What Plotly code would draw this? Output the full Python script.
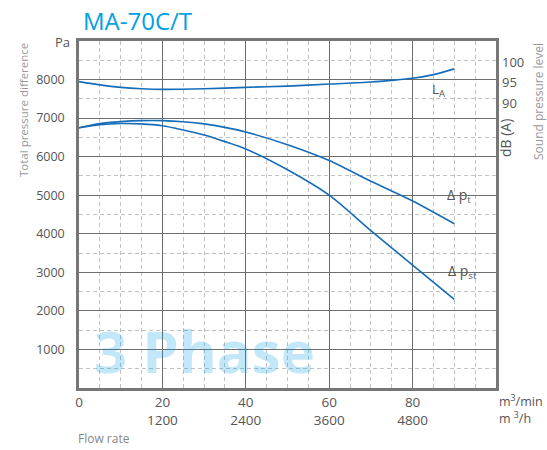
import plotly.graph_objects as go

# ---- data ----
flow = [0, 5, 10, 15, 20, 25, 30, 35, 40, 50, 60, 70, 80, 90]           # m3/min
p_total = [6750, 6860, 6910, 6935, 6935, 6905, 6850, 6760, 6640, 6310, 5900, 5360, 4850, 4260]
p_static = [6750, 6830, 6860, 6850, 6800, 6690, 6560, 6390, 6200, 5660, 5000, 4080, 3190, 2300]

flow_la = [0, 5, 10, 15, 20, 30, 40, 50, 60, 70, 75, 80, 85, 90]
sound_la = [95.3, 94.5, 93.9, 93.55, 93.4, 93.55, 93.9, 94.2, 94.7, 95.2, 95.6, 96.1, 97.0, 98.4]

x_tickvals = [0, 20, 40, 60, 80]
x_ticktext = ["0", "20<br>1200", "40<br>2400", "60<br>3600", "80<br>4800"]
y_tickvals = [1000, 2000, 3000, 4000, 5000, 6000, 7000, 8000]
y2_tickvals = [90, 95, 100]

LINE = "rgb(22,108,184)"
FONT = "Open Sans"
W, H = 547, 450
L, R, T, B = 79, 51, 41, 62
pw, ph = W - L - R, H - T - B

def px(xp):
    return (xp - L) / pw

def py(yp):
    return (H - B - yp) / ph

fig = go.Figure()
fig.add_trace(go.Scatter(x=flow, y=p_total, mode="lines",
                         line=dict(color=LINE, width=1.6, shape="spline", smoothing=0.8),
                         hoverinfo="skip"))
fig.add_trace(go.Scatter(x=flow, y=p_static, mode="lines",
                         line=dict(color=LINE, width=1.6, shape="spline", smoothing=0.8),
                         hoverinfo="skip"))
fig.add_trace(go.Scatter(x=flow_la, y=sound_la, mode="lines", yaxis="y2",
                         line=dict(color=LINE, width=1.6, shape="spline", smoothing=0.8),
                         hoverinfo="skip"))

major_grid = "#6e6e6e"
minor_grid = "#c2c2c2"
tickfont = dict(family=FONT, size=12.5, color="#555")

fig.update_layout(
    width=W, height=H,
    margin=dict(l=L, r=R, t=T, b=B, autoexpand=False),
    paper_bgcolor="white", plot_bgcolor="white",
    showlegend=False,
    font=dict(family=FONT, color="#555"),
    xaxis=dict(range=[0, 100], tickvals=x_tickvals, ticktext=x_ticktext,
               showgrid=True, gridcolor=major_grid, gridwidth=1.2, dtick=10,
               minor=dict(dtick=5, tick0=0, showgrid=True, gridcolor=minor_grid,
                          griddash="4px,3px", gridwidth=1),
               showline=True, mirror=True, linecolor="#777", linewidth=2.5,
               zeroline=False, ticks="", ticklabelstandoff=0,
               tickfont=dict(family=FONT, size=13.5, color="#555")),
    yaxis=dict(range=[0, 9000], tickvals=y_tickvals,
               showgrid=True, gridcolor=major_grid, gridwidth=1.2,
               minor=dict(dtick=500, tick0=0, showgrid=True, gridcolor=minor_grid,
                          griddash="4px,3px", gridwidth=1),
               showline=True, mirror=True, linecolor="#777", linewidth=2.5,
               zeroline=False, ticks="", ticklabelstandoff=9, tickfont=tickfont),
    yaxis2=dict(range=[20.6, 105.2], overlaying="y", side="right",
                tickvals=y2_tickvals, showgrid=False, zeroline=False,
                showline=False, ticks="", ticklabelstandoff=5,
                tickfont=dict(family=FONT, size=13, color="#555")),
)

ann = [
    dict(text="MA-70C/T", x=px(81), y=py(20), xanchor="left", yanchor="middle",
         font=dict(family=FONT, size=24, color="rgb(0,160,227)")),
    dict(text="Pa", x=px(72), y=py(42), xanchor="right", yanchor="middle",
         font=dict(family=FONT, size=13, color="#555")),
    dict(text="Total pressure difference", x=px(23), y=py(110), textangle=-90,
         xanchor="center", yanchor="middle",
         font=dict(family=FONT, size=11.5, color="#999")),
    dict(text="dB (A)", x=px(505), y=py(138), textangle=-90,
         xanchor="center", yanchor="middle",
         font=dict(family=FONT, size=14, color="#555")),
    dict(text="Sound pressure level", x=px(538), y=py(102), textangle=-90,
         xanchor="center", yanchor="middle",
         font=dict(family=FONT, size=12, color="#999")),
    dict(text="m<sup>3</sup>/min", x=px(497), y=py(401), xanchor="left", yanchor="middle",
         font=dict(family=FONT, size=12.5, color="#555")),
    dict(text="m <sup>3</sup>/h", x=px(497), y=py(418), xanchor="left", yanchor="middle",
         font=dict(family=FONT, size=12.5, color="#555")),
    dict(text="Flow rate", x=px(76), y=py(439), xanchor="left", yanchor="middle",
         font=dict(family=FONT, size=12, color="#888")),
]
for a in ann:
    a.update(xref="paper", yref="paper", showarrow=False)
    fig.add_annotation(**a)

# curve labels and watermark in data coordinates
fig.add_annotation(text="L<sub>A</sub>", x=86.2, y=7730, xref="x", yref="y",
                   showarrow=False, font=dict(family=FONT, size=13.5, color="#555"))
fig.add_annotation(text="Δ p<sub>t</sub>", x=91.2, y=4980, xref="x", yref="y",
                   showarrow=False, font=dict(family=FONT, size=14, color="#555"))
fig.add_annotation(text="Δ p<sub>st</sub>", x=92.0, y=3010, xref="x", yref="y",
                   showarrow=False, font=dict(family=FONT, size=14, color="#555"))
fig.add_annotation(text="<b>3 Phase</b>", x=30, y=980, xref="x", yref="y",
                   showarrow=False,
                   font=dict(family=FONT, size=58, color="rgba(0,155,225,0.24)"))

fig.write_html("out.html", config={"displayModeBar": False},
               post_script="document.body.style.margin='0';document.body.style.padding='0';")
